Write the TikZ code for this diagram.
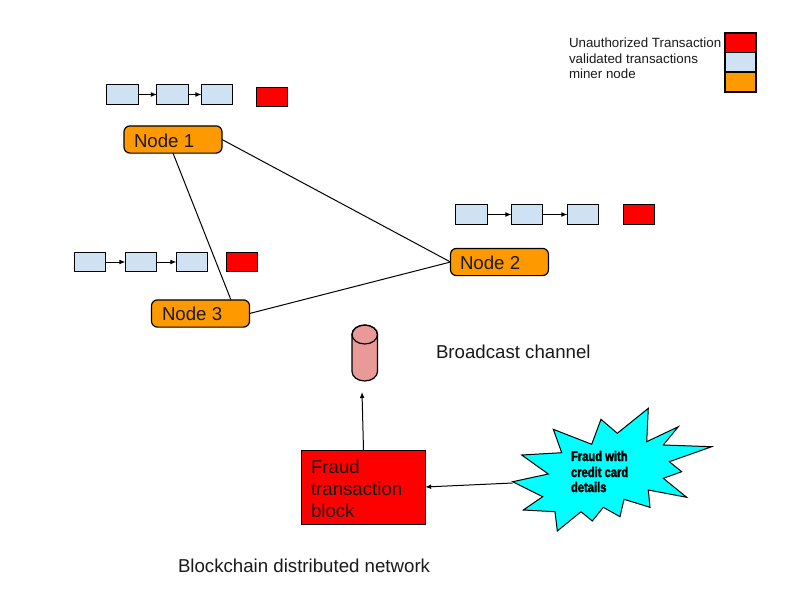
\documentclass[tikz,border=0pt]{standalone}
\usepackage{fontspec}
\setmainfont{Liberation Sans}
\newfontfamily\heavyfont[FakeStretch=0.8,FakeBold=2.2]{Liberation Sans Bold}
\usetikzlibrary{shapes.geometric,arrows.meta,calc}
\definecolor{minerc}{HTML}{FF9900}
\definecolor{validc}{HTML}{CFE2F3}
\definecolor{fraudc}{HTML}{FF0000}
\definecolor{cylc}{HTML}{EA9999}
\definecolor{starc}{HTML}{00FFFF}
\definecolor{txtc}{HTML}{1A1A1A}
\tikzset{
  x=0.75pt,y=-0.75pt,
  every node/.style={inner sep=0pt,outer sep=0pt},
  linkline/.style={draw=black,line width=0.75pt},
  chainarrow/.style={draw=black,line width=0.75pt,-{Latex[length=4.5pt,width=3.6pt]}},
  minerbox/.style={draw=black,fill=minerc,rounded corners=4.5pt,line width=0.9pt,minimum width=73.5pt,minimum height=20.4pt},
  validbox/.style={draw=black,fill=validc,line width=0.75pt,minimum width=23.4pt,minimum height=14.4pt},
  redbox/.style={draw=black,fill=fraudc,line width=0.75pt,minimum width=23.4pt,minimum height=14.4pt},
  legendbox/.style={draw=black,line width=0.9pt,minimum width=23.25pt,minimum height=15pt},
  label14/.style={anchor=base west,font=\fontsize{14}{16}\selectfont,text=txtc},
  label10/.style={anchor=base west,font=\fontsize{10}{12}\selectfont,text=txtc},
  heavy/.style={anchor=base west,font=\heavyfont\fontsize{10.5}{12}\selectfont,text=black},
  cylline/.style={draw=black,line width=0.9pt},
}
\begin{document}
\begin{tikzpicture}
\useasboundingbox (0,0) rectangle (800,600);
\fill[white] (0,0) rectangle (800,600);

% miner nodes
\node[minerbox] (n1) at (173,139.5) {};
\node[minerbox] (n2) at (499.5,262) {};
\node[minerbox] (n3) at (200.5,313.5) {};
\node[label14] at (134,147) {Node 1};
\node[label14] at (460,269) {Node 2};
\node[label14] at (162,320) {Node 3};
\coordinate (n3top) at (231,300);
\draw[linkline] (n1.east) -- (n2.west);
\draw[linkline] (n1.south) -- (n3top);
\draw[linkline] (n3.east) -- (n2.west);

% chain 1
\node[validbox] (a1) at (122.5,94.5) {};
\node[validbox] (a2) at (172.5,94.5) {};
\node[validbox] (a3) at (217,94.5) {};
\node[redbox] (a4) at (272,97) {};
\draw[chainarrow] (a1) -- (a2);
\draw[chainarrow] (a2) -- (a3);

% chain 2
\node[validbox] (b1) at (471.5,214.5) {};
\node[validbox] (b2) at (527,214.5) {};
\node[validbox] (b3) at (583,214.5) {};
\node[redbox] (b4) at (639,214.5) {};
\draw[chainarrow] (b1) -- (b2);
\draw[chainarrow] (b2) -- (b3);

% chain 3
\node[validbox] (c1) at (90,262) {};
\node[validbox] (c2) at (141,262) {};
\node[validbox] (c3) at (192,262) {};
\node[redbox] (c4) at (242,262) {};
\draw[chainarrow] (c1) -- (c2);
\draw[chainarrow] (c2) -- (c3);

% legend
\node[legendbox,fill=fraudc] (l1) at (740.5,43) {};
\node[legendbox,fill=validc] (l2) at (740.5,62.5) {};
\node[legendbox,fill=minerc] (l3) at (740.5,82) {};
\node[label10] at (569,47) {Unauthorized Transaction};
\node[label10] at (569,63) {validated transactions};
\node[label10] at (569,78.5) {miner node};

% broadcast channel (cylinder)
\draw[cylline,fill=cylc] (352,334.5) -- (352,371.5)
  arc[start angle=180,end angle=360,x radius=9.56pt,y radius=7.1pt]
  -- (377.5,334.5)
  arc[start angle=0,end angle=180,x radius=9.56pt,y radius=7.1pt] -- cycle;
\draw[cylline] (364.75,334.5) ellipse [x radius=9.56pt,y radius=7.1pt];
\node[label14] at (436,358) {Broadcast channel};

% fraud block
\node[draw=black,fill=fraudc,line width=0.75pt,minimum width=92.5pt,minimum height=55.5pt] (fb) at (363.5,487) {};
\node[label14] at (311,473) {Fraud};
\node[label14] at (311,495) {transaction};
\node[label14] at (311,517) {block};
\coordinate (cylb) at (362,392);
\draw[chainarrow] (fb.north) -- (cylb);

% star
\draw[draw=black,fill=starc,line width=0.75pt]
  (512.7,481.7) -- (548.3,474) -- (521.7,455) -- (561.7,452.7) -- (553.3,429.3)
  -- (591.7,444.3) -- (601,419.3) -- (617.3,433.3) -- (648.3,408.3) -- (646.7,441.7)
  -- (678.3,426.7) -- (663.3,445) -- (711.7,446.7) -- (669.3,461.7) -- (681.7,471.7)
  -- (663.3,478.3) -- (686.7,497.3) -- (648.3,490) -- (650,507.3) -- (624,499.3)
  -- (620,516.7) -- (603.3,507.3) -- (592.3,521) -- (581,511.7) -- (557.3,531)
  -- (555,511.7) -- (523.3,510) -- (542.7,496.7) -- cycle;
\coordinate (starw) at (512.7,483);
\draw[chainarrow] (starw) -- (fb.east);
\node[heavy] at (571,461) {Fraud with};
\node[heavy] at (571,477) {credit card};
\node[heavy] at (571,492) {details};

% caption
\node[label14] at (178,572) {Blockchain distributed network};
\end{tikzpicture}
\end{document}
